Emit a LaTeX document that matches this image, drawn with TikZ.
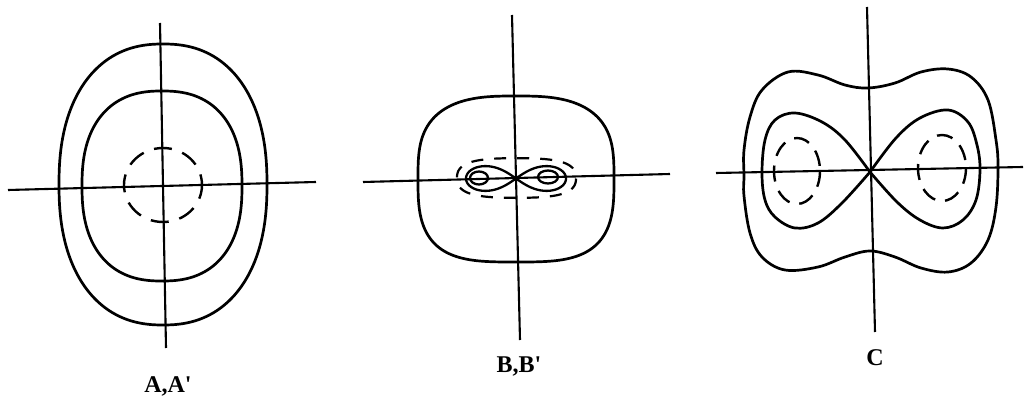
\documentclass[tikz,border=0pt]{standalone}
\usepackage{fontspec}
\newfontfamily\labelfont{Liberation Serif}
\begin{document}
\begin{tikzpicture}[x=1pt,y=-1pt,
  curve/.style={line width=2.7pt, line join=round},
  axisline/.style={line width=2.1pt},
  dashcurve/.style={line width=2.4pt, dash pattern=on 16pt off 10pt},
  lbl/.style={font=\labelfont\bfseries\fontsize{24}{28}\selectfont, inner sep=0pt}]
\useasboundingbox (0,0) rectangle (1028,403);

% ---------- Panel A ----------
\coordinate (Avt) at (160,23);  \coordinate (Avb) at (166,348);
\coordinate (Ahl) at (8,190);   \coordinate (Ahr) at (316,182);
\draw[axisline] (Avt) -- (Avb);
\draw[axisline] (Ahl) -- (Ahr);
\draw[curve] plot[domain=0.5:359.5,samples=360,variable=\t]
  ({163+104*cos(\t)*pow(abs(cos(\t)),-0.13)},{184.5+140.5*sin(\t)*pow(abs(sin(\t)),-0.13)}) -- cycle;
\draw[curve] plot[domain=0.5:359.5,samples=360,variable=\t]
  ({162+80*cos(\t)*pow(abs(cos(\t)),-0.17)},{186+95*sin(\t)*pow(abs(sin(\t)),-0.17)}) -- cycle;
\draw[dashcurve, dash pattern=on 18pt off 11pt, dash phase=4pt] (163,185) ellipse [x radius=39, y radius=37];
\node[lbl] (labA) at (168,386) {A,A\textquotesingle};

% ---------- Panel B ----------
\coordinate (Bvt) at (512,15);  \coordinate (Bvb) at (520,340);
\coordinate (Bhl) at (363,182); \coordinate (Bhr) at (670,174);
\draw[axisline] (Bvt) -- (Bvb);
\draw[axisline] (Bhl) -- (Bhr);
\draw[curve] plot[domain=0.5:359.5,samples=360,variable=\t]
  ({516+98*cos(\t)*pow(abs(cos(\t)),-0.35-0.04*sin(\t))},{179+83*sin(\t)*pow(abs(sin(\t)),-0.35-0.04*sin(\t))}) -- cycle;
\draw[curve, line width=2.3pt] plot[domain=0:360,samples=200,variable=\t]
  ({516+50*cos(\t)/(1+sin(\t)*sin(\t))},{178.5+35*sin(\t)*cos(\t)/(1+sin(\t)*sin(\t))}) -- cycle;
\draw[curve, line width=2.3pt] (479,178) ellipse [x radius=9, y radius=6.5];
\draw[curve, line width=2.3pt] (548,177) ellipse [x radius=10, y radius=6.5];
\draw[dashcurve, line width=2.2pt, dash pattern=on 12pt off 11pt] plot[domain=0.5:359.5,samples=360,variable=\t]
  ({516.5+59.5*cos(\t)*pow(abs(cos(\t)),-0.2)},{178+22.5*(0.88+0.12*cos(\t)*cos(\t))*sin(\t)*pow(abs(sin(\t)),-0.2)}) -- cycle;
\node[lbl] (labB) at (519,366) {B,B\textquotesingle};

% ---------- Panel C ----------
\coordinate (Cvt) at (867,7);   \coordinate (Cvb) at (875,332);
\coordinate (Chl) at (716,173); \coordinate (Chr) at (1023,167);
\draw[axisline] (Cvt) -- (Cvb);
\draw[axisline] (Chl) -- (Chr);
\draw[curve] plot[smooth cycle, tension=0.6] coordinates {
  (744,176) (744,196) (750,233) (762,257) (785,270) (818,267) (845,257) (870,251)
  (895,257) (921,268) (948,272) (971,263) (988,240) (996,207) (998,167) (996,140)
  (988,100) (971,77) (948,69) (921,72) (895,83) (868,88) (845,85) (818,75)
  (788,72) (762,90) (750,117) (744,150)};
\draw[curve] plot[smooth, tension=0.6] coordinates {
  (870,172) (845,140) (822,122) (795,113) (775,120) (765,140) (762,173) (765,200)
  (775,217) (795,228) (818,223) (842,203) (870,172)};
\draw[curve] plot[smooth, tension=0.6] coordinates {
  (870,172) (896,138) (920,118) (948,110) (968,122) (977,145) (980,170) (976,200)
  (963,220) (943,228) (920,220) (897,202) (870,172)};
\draw[dashcurve] (797,171) ellipse [x radius=23, y radius=33];
\draw[dashcurve] (942,168) ellipse [x radius=24, y radius=33];
\node[lbl] (labC) at (875,358) {C};
\end{tikzpicture}
\end{document}
